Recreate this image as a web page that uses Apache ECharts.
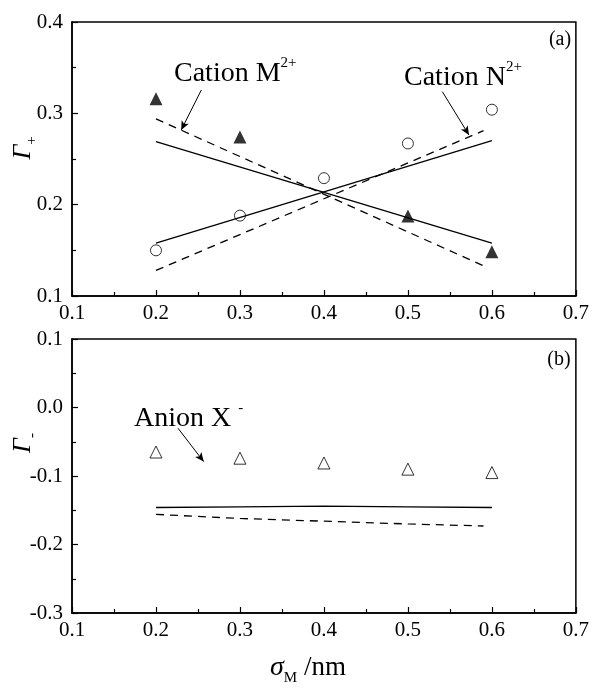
<!DOCTYPE html>
<html><head><meta charset="utf-8">
<script src="https://cdn.jsdelivr.net/npm/echarts@6/dist/echarts.min.js"></script>
<style>html,body{margin:0;padding:0;background:#fff}#c{width:592px;height:688px}</style>
</head><body><div id="c"></div>
<script>
// ---- data ----
const xPoints = [0.2, 0.3, 0.4, 0.5, 0.6];
const mX = [0.2, 0.3, 0.5, 0.6];
const mSim = [0.316, 0.274, 0.1875, 0.1485];          // Cation M2+ (filled triangles)
const nSim = [0.150, 0.188, 0.229, 0.267, 0.304];     // Cation N2+ (open circles)
const fitX = [0.2, 0.6];
const mSolid = [0.269, 0.158];
const nSolid = [0.158, 0.270];
const dashX = [0.2, 0.59];
const mDashed = [0.294, 0.133];
const nDashed = [0.128, 0.281];
const xSim = [-0.065, -0.074, -0.081, -0.090, -0.095]; // Anion X- (open triangles)
const xSolidX = [0.2, 0.3, 0.4, 0.5, 0.6];
const xSolid = [-0.146, -0.145, -0.144, -0.145, -0.146];
const xDashedX = [0.2, 0.3, 0.4, 0.5, 0.59];
const xDashed = [-0.156, -0.162, -0.166, -0.170, -0.173];
const xTicks = [0.1, 0.2, 0.3, 0.4, 0.5, 0.6, 0.7];
const topTicks = [0.1, 0.2, 0.3, 0.4];
const botTicks = [-0.3, -0.2, -0.1, 0.0, 0.1];

const zip = (xs, ys) => xs.map((x, i) => [x, ys[i]]);
const FONT = '"Liberation Serif", "DejaVu Serif", serif';

const chart = echarts.init(document.getElementById('c'), null, {renderer: 'canvas'});

function xAxisCfg(idx) {
  return {
    type: 'value', gridIndex: idx, min: 0.1, max: 0.7, interval: 0.1,
    axisLine: {show: true, onZero: false, lineStyle: {color: '#000', width: 1.5}},
    axisTick: {show: true, inside: true, length: 6, lineStyle: {color: '#000', width: 1.2}},
    minorTick: {show: true, splitNumber: 2, length: 4, lineStyle: {color: '#000', width: 1.2}},
    splitLine: {show: false},
    axisLabel: {color: '#000', fontFamily: FONT, fontSize: 21, margin: 7,
      formatter: v => v.toFixed(1)}
  };
}
function yAxisCfg(idx, min, max) {
  return {
    type: 'value', gridIndex: idx, min: min, max: max, interval: 0.1,
    axisLine: {show: true, onZero: false, lineStyle: {color: '#000', width: 1.5}},
    axisTick: {show: true, inside: true, length: 6, lineStyle: {color: '#000', width: 1.2}},
    minorTick: {show: true, splitNumber: 2, length: 4, lineStyle: {color: '#000', width: 1.2}},
    splitLine: {show: false},
    axisLabel: {color: '#000', fontFamily: FONT, fontSize: 21, margin: 9,
      formatter: v => (Math.abs(v) < 1e-9 ? '0.0' : v.toFixed(1))}
  };
}

const lineStyleSolid = {color: '#000', width: 1.3, type: 'solid'};
const lineStyleDash = {color: '#000', width: 1.3, type: [8, 6]};

function arrowLine(from, to) {
  return {
    silent: true, symbol: ['none', 'arrow'], symbolSize: [6, 9],
    label: {show: false},
    lineStyle: {color: '#000', width: 1, type: 'solid'},
    data: [[{coord: from}, {coord: to}]]
  };
}

const supRich = {
  a: {fontFamily: FONT, fontSize: 28, lineHeight: 32, verticalAlign: 'bottom'},
  s: {fontFamily: FONT, fontSize: 15, lineHeight: 32, verticalAlign: 'top'}
};
const gammaRich = {
  g: {fontFamily: FONT, fontStyle: 'italic', fontSize: 26, lineHeight: 30, verticalAlign: 'top'},
  s: {fontFamily: FONT, fontSize: 15, lineHeight: 30, verticalAlign: 'bottom'}
};

const option = {
  backgroundColor: '#fff',
  animation: false,
  grid: [
    {left: 72, top: 22, width: 506, height: 274, show: true, borderColor: '#000', borderWidth: 1.5, backgroundColor: 'transparent'},
    {left: 72, top: 339, width: 506, height: 274, show: true, borderColor: '#000', borderWidth: 1.5, backgroundColor: 'transparent'}
  ],
  xAxis: [xAxisCfg(0), xAxisCfg(1)],
  yAxis: [yAxisCfg(0, 0.1, 0.4), yAxisCfg(1, -0.3, 0.1)],
  series: [
    {type: 'line', xAxisIndex: 0, yAxisIndex: 0, data: zip(fitX, mSolid), showSymbol: false, lineStyle: lineStyleSolid,
     markLine: arrowLine([0.254, 0.3255], [0.230, 0.2817])},
    {type: 'line', xAxisIndex: 0, yAxisIndex: 0, data: zip(fitX, nSolid), showSymbol: false, lineStyle: lineStyleSolid,
     markLine: arrowLine([0.541, 0.3237], [0.5727, 0.2762])},
    {type: 'line', xAxisIndex: 0, yAxisIndex: 0, data: zip(dashX, mDashed), showSymbol: false, lineStyle: lineStyleDash},
    {type: 'line', xAxisIndex: 0, yAxisIndex: 0, data: zip(dashX, nDashed), showSymbol: false, lineStyle: lineStyleDash},
    {type: 'scatter', xAxisIndex: 0, yAxisIndex: 0, data: zip(mX, mSim), symbol: 'triangle', symbolSize: 13,
     itemStyle: {color: '#000'}},
    {type: 'scatter', xAxisIndex: 0, yAxisIndex: 0, data: zip(xPoints, nSim), symbol: 'circle', symbolSize: 11,
     itemStyle: {color: '#fff', borderColor: '#000', borderWidth: 1}},
    {type: 'line', xAxisIndex: 1, yAxisIndex: 1, data: zip(xSolidX, xSolid), showSymbol: false, lineStyle: lineStyleSolid,
     markLine: arrowLine([0.2263, -0.0304], [0.2568, -0.079])},
    {type: 'line', xAxisIndex: 1, yAxisIndex: 1, data: zip(xDashedX, xDashed), showSymbol: false, lineStyle: lineStyleDash},
    {type: 'scatter', xAxisIndex: 1, yAxisIndex: 1, data: zip(xPoints, xSim), symbol: 'triangle', symbolSize: 12,
     itemStyle: {color: '#fff', borderColor: '#000', borderWidth: 1}}
  ],
  graphic: [
    {type: 'text', x: 174, y: 56, style: {text: '{a|Cation M}{s|2+}', fill: '#000', rich: supRich}},
    {type: 'text', x: 404, y: 60, style: {text: '{a|Cation N}{s|2+}', fill: '#000', rich: supRich}},
    {type: 'text', x: 134, y: 401, style: {text: '{a|Anion X }{s|-}', fill: '#000', rich: supRich}},
    {type: 'text', x: 560, y: 40, style: {text: '(a)', fill: '#000', font: '20px ' + FONT, align: 'center', verticalAlign: 'middle'}},
    {type: 'text', x: 559, y: 360, style: {text: '(b)', fill: '#000', font: '20px ' + FONT, align: 'center', verticalAlign: 'middle'}},
    {type: 'text', x: 25, y: 148, rotation: Math.PI / 2, style: {
      text: '{g|Γ}{s|+}', fill: '#000', align: 'center', verticalAlign: 'middle', rich: gammaRich}},
    {type: 'text', x: 25, y: 443, rotation: Math.PI / 2, style: {
      text: '{g|Γ}{s|-}', fill: '#000', align: 'center', verticalAlign: 'middle', rich: gammaRich}},
    {type: 'text', x: 308, y: 670, style: {
      text: '{g|σ}{s|M}{a| /nm}', fill: '#000', align: 'center', verticalAlign: 'middle',
      rich: {g: {fontFamily: FONT, fontStyle: 'italic', fontSize: 28, lineHeight: 32, verticalAlign: 'top'},
             s: {fontFamily: FONT, fontSize: 15, lineHeight: 32, verticalAlign: 'bottom'},
             a: {fontFamily: FONT, fontSize: 27, lineHeight: 32, verticalAlign: 'top'}}}}
  ]
};
chart.setOption(option);
</script>
</body></html>
